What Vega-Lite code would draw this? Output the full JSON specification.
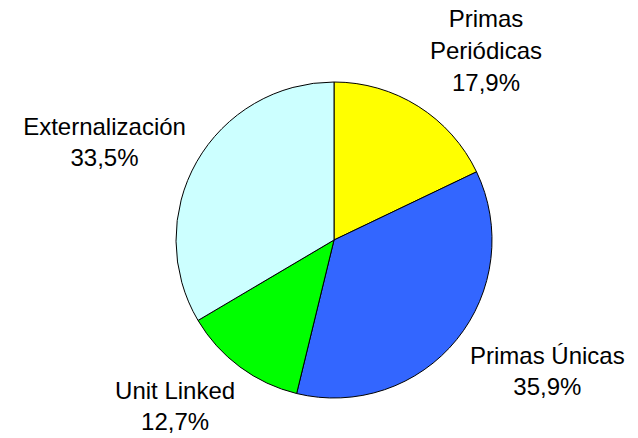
{
  "$schema": "https://vega.github.io/schema/vega-lite/v6.json",
  "width": 608,
  "height": 396,
  "autosize": "none",
  "padding": {"left": 30, "top": 42, "right": 0, "bottom": 0},
  "background": "white",
  "data": {
    "values": [
      {"idx": 1, "category": "Primas Periódicas", "label": "Primas\nPeriódicas", "value": 17.9},
      {"idx": 2, "category": "Primas Únicas", "label": "Primas Únicas", "value": 35.9},
      {"idx": 3, "category": "Unit Linked", "label": "Unit Linked", "value": 12.7},
      {"idx": 4, "category": "Externalización", "label": "Externalización", "value": 33.5}
    ]
  },
  "transform": [
    {"stack": "value", "groupby": [], "sort": [{"field": "idx", "order": "ascending"}], "as": ["v0", "v1"]},
    {"calculate": "(datum.v0 + datum.v1) / 2", "as": "mid"},
    {"calculate": "datum.label + '\\n' + replace(format(datum.value, '.1f'), '.', ',') + '%'", "as": "text"}
  ],
  "layer": [
    {
      "mark": {"type": "arc", "outerRadius": 158, "stroke": "black", "strokeWidth": 1},
      "encoding": {
        "theta": {"field": "v0", "type": "quantitative", "scale": {"domain": [0, 100]}},
        "theta2": {"field": "v1"},
        "color": {
          "field": "category",
          "type": "nominal",
          "scale": {
            "domain": ["Primas Periódicas", "Primas Únicas", "Unit Linked", "Externalización"],
            "range": ["#FFFF00", "#3366FF", "#00FF00", "#CCFFFF"]
          },
          "legend": null
        }
      }
    },
    {
      "transform": [{"filter": "datum.idx == 1"}],
      "mark": {"type": "text", "radius": 240, "dx": 24, "dy": -17, "font": "Liberation Sans", "fontSize": 24, "lineBreak": "\n", "lineHeight": 32, "align": "center", "baseline": "middle", "color": "black"},
      "encoding": {
        "theta": {"field": "mid", "type": "quantitative", "scale": {"domain": [0, 100]}},
        "text": {"field": "text", "type": "nominal"}
      }
    },
    {
      "transform": [{"filter": "datum.idx == 2"}],
      "mark": {"type": "text", "radius": 240, "dx": 27, "dy": -34, "font": "Liberation Sans", "fontSize": 24, "lineBreak": "\n", "lineHeight": 31, "align": "center", "baseline": "middle", "color": "black"},
      "encoding": {
        "theta": {"field": "mid", "type": "quantitative", "scale": {"domain": [0, 100]}},
        "text": {"field": "text", "type": "nominal"}
      }
    },
    {
      "transform": [{"filter": "datum.idx == 3"}],
      "mark": {"type": "text", "radius": 240, "dx": -16, "dy": -41, "font": "Liberation Sans", "fontSize": 24, "lineBreak": "\n", "lineHeight": 31, "align": "center", "baseline": "middle", "color": "black"},
      "encoding": {
        "theta": {"field": "mid", "type": "quantitative", "scale": {"domain": [0, 100]}},
        "text": {"field": "text", "type": "nominal"}
      }
    },
    {
      "transform": [{"filter": "datum.idx == 4"}],
      "mark": {"type": "text", "radius": 240, "dx": -21, "dy": 7, "font": "Liberation Sans", "fontSize": 24, "lineBreak": "\n", "lineHeight": 31, "align": "center", "baseline": "middle", "color": "black"},
      "encoding": {
        "theta": {"field": "mid", "type": "quantitative", "scale": {"domain": [0, 100]}},
        "text": {"field": "text", "type": "nominal"}
      }
    }
  ],
  "config": {"view": {"stroke": null}}
}
